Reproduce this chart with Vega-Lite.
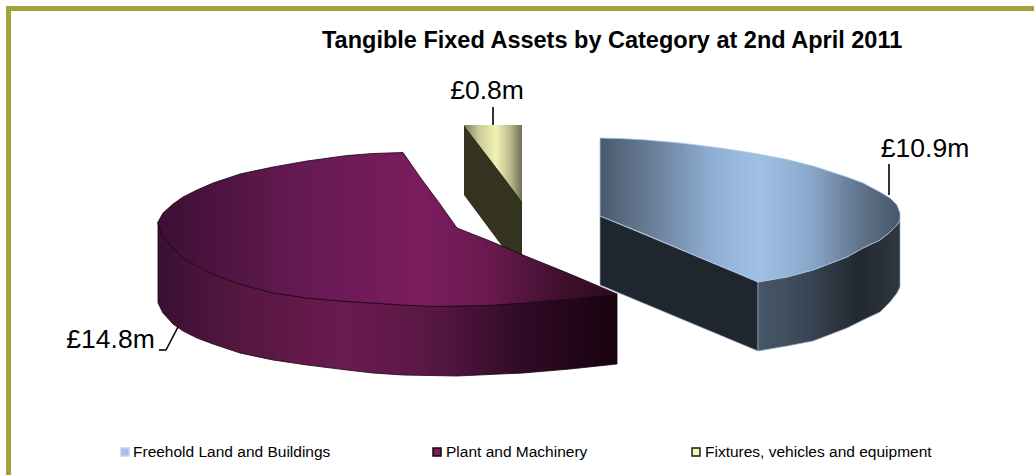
{
  "$schema": "https://vega.github.io/schema/vega-lite/v6.json",
  "width": 1034,
  "height": 475,
  "autosize": "none",
  "padding": 0,
  "background": "white",
  "view": {"stroke": null},
  "title": {
    "text": "Tangible Fixed Assets by Category at 2nd  April 2011",
    "anchor": "start",
    "frame": "group",
    "dx": 322,
    "dy": 56,
    "font": "Liberation Sans",
    "fontSize": 23.5,
    "fontWeight": "bold",
    "color": "#000000"
  },
  "datasets": {
    "frame": [
      {"x": 0.6, "x2": 103.4, "y": 0.6, "y2": 1.1},
      {"x": 0.6, "x2": 1.1, "y": 0.6, "y2": 47.5}
    ],
    "fixturesFace": [
      {"x": 46.4, "y": 12.5, "y2": 19.5},
      {"x": 52.2, "y": 20.1, "y2": 27.3}
    ],
    "fixturesTop": [
      {"x": 46.4, "y": 12.5, "y2": 12.5},
      {"x": 52.2, "y": 12.5, "y2": 20.1}
    ],
    "landFace": [
      {"x": 60.0, "y": 21.6, "y2": 28.5},
      {"x": 75.8, "y": 28.2, "y2": 35.1}
    ],
    "landRim": [
      {"x": 75.8, "y": 28.2, "y2": 35.1},
      {"x": 78.7, "y": 27.7, "y2": 34.6},
      {"x": 81.3, "y": 27.0, "y2": 34.1},
      {"x": 84.7, "y": 25.7, "y2": 32.8},
      {"x": 86.3, "y": 24.8, "y2": 32.0},
      {"x": 88.0, "y": 24.0, "y2": 31.2},
      {"x": 89.0, "y": 23.2, "y2": 30.2},
      {"x": 89.7, "y": 22.5, "y2": 29.3},
      {"x": 90.0, "y": 22.0, "y2": 28.7}
    ],
    "landTop": [
      {"x": 60.0, "y": 13.8, "y2": 21.6},
      {"x": 62.0, "y": 13.85, "y2": 22.4},
      {"x": 64.7, "y": 14.0, "y2": 23.5},
      {"x": 68.0, "y": 14.3, "y2": 24.9},
      {"x": 71.3, "y": 14.7, "y2": 26.3},
      {"x": 74.0, "y": 15.1, "y2": 27.4},
      {"x": 75.8, "y": 15.4, "y2": 28.2},
      {"x": 78.7, "y": 15.95, "y2": 27.7},
      {"x": 81.3, "y": 16.6, "y2": 27.0},
      {"x": 84.7, "y": 17.7, "y2": 25.7},
      {"x": 86.3, "y": 18.3, "y2": 24.8},
      {"x": 88.0, "y": 19.2, "y2": 24.0},
      {"x": 89.0, "y": 19.8, "y2": 23.2},
      {"x": 89.7, "y": 20.5, "y2": 22.5},
      {"x": 90.0, "y": 21.3, "y2": 22.0}
    ],
    "plantRim": [
      {"x": 15.8, "y": 22.2, "y2": 30.3},
      {"x": 16.3, "y": 23.8, "y2": 31.3},
      {"x": 17.3, "y": 24.8, "y2": 32.4},
      {"x": 18.3, "y": 25.8, "y2": 33.1},
      {"x": 19.7, "y": 26.6, "y2": 33.8},
      {"x": 21.3, "y": 27.4, "y2": 34.4},
      {"x": 24.0, "y": 28.4, "y2": 35.3},
      {"x": 27.3, "y": 29.3, "y2": 36.0},
      {"x": 30.7, "y": 29.8, "y2": 36.5},
      {"x": 34.7, "y": 30.15, "y2": 37.0},
      {"x": 37.3, "y": 30.3, "y2": 37.3},
      {"x": 40.3, "y": 30.5, "y2": 37.5},
      {"x": 45.7, "y": 30.6, "y2": 37.6},
      {"x": 52.3, "y": 30.3, "y2": 37.3},
      {"x": 57.0, "y": 29.9, "y2": 36.9},
      {"x": 61.7, "y": 29.4, "y2": 36.4}
    ],
    "plantTop": [
      {"x": 15.8, "y": 22.2, "y2": 22.4},
      {"x": 16.3, "y": 21.3, "y2": 23.8},
      {"x": 17.3, "y": 20.4, "y2": 24.8},
      {"x": 18.3, "y": 19.7, "y2": 25.8},
      {"x": 19.7, "y": 19.0, "y2": 26.6},
      {"x": 21.3, "y": 18.3, "y2": 27.4},
      {"x": 24.0, "y": 17.4, "y2": 28.4},
      {"x": 27.3, "y": 16.7, "y2": 29.3},
      {"x": 30.7, "y": 16.1, "y2": 29.8},
      {"x": 34.7, "y": 15.55, "y2": 30.15},
      {"x": 37.3, "y": 15.35, "y2": 30.3},
      {"x": 40.3, "y": 15.25, "y2": 30.5},
      {"x": 42.0, "y": 17.7, "y2": 30.6},
      {"x": 44.0, "y": 20.4, "y2": 30.65},
      {"x": 45.7, "y": 22.8, "y2": 30.6},
      {"x": 49.0, "y": 24.1, "y2": 30.55},
      {"x": 52.3, "y": 25.5, "y2": 30.3},
      {"x": 57.0, "y": 27.4, "y2": 29.9},
      {"x": 61.7, "y": 29.4, "y2": 29.4}
    ],
    "leaders": [
      {"x": 88.9, "y": 16.4, "x2": 88.9, "y2": 19.5},
      {"x": 49.3, "y": 10.7, "x2": 49.3, "y2": 12.5},
      {"x": 15.9, "y": 35.0, "x2": 16.6, "y2": 35.0},
      {"x": 16.6, "y": 35.0, "x2": 17.8, "y2": 32.7}
    ],
    "values": [
      {"category": "Freehold Land and Buildings", "value": 10.9, "label": "£10.9m", "x": 92.5, "y": 14.9},
      {"category": "Plant and Machinery", "value": 14.8, "label": "£14.8m", "x": 11.05, "y": 34.0},
      {"category": "Fixtures, vehicles and equipment", "value": 0.8, "label": "£0.8m", "x": 48.7, "y": 9.1}
    ],
    "key": [
      {"category": "Freehold Land and Buildings", "x": 12.5, "labelX": 13.3, "y": 45.2},
      {"category": "Plant and Machinery", "x": 43.7, "labelX": 44.6, "y": 45.2},
      {"category": "Fixtures, vehicles and equipment", "x": 69.6, "labelX": 70.5, "y": 45.2}
    ]
  },
  "data": {"name": "values"},
  "encoding": {
    "x": {"field": "x", "type": "quantitative", "axis": null, "scale": {"domain": [0, 103.4], "nice": false, "zero": false}},
    "y": {"field": "y", "type": "quantitative", "axis": null, "scale": {"domain": [47.5, 0], "nice": false, "zero": false}}
  },
  "layer": [
    {
      "data": {"name": "frame"},
      "mark": {"type": "rect", "fill": "#a3a23a"},
      "encoding": {"x2": {"field": "x2"}, "y2": {"field": "y2"}}
    },
    {
      "data": {"name": "fixturesFace"},
      "mark": {"type": "area", "fill": "#33331f"},
      "encoding": {"y2": {"field": "y2"}}
    },
    {
      "data": {"name": "fixturesTop"},
      "mark": {"type": "area", "fill": {"gradient": "linear", "x1": 0, "x2": 1, "y1": 0, "y2": 0, "stops": [
        {"offset": 0, "color": "#77775a"},
        {"offset": 0.25, "color": "#c9c99a"},
        {"offset": 0.55, "color": "#f2f2b2"},
        {"offset": 0.8, "color": "#b9b98c"},
        {"offset": 1, "color": "#6f6f55"}
      ]}},
      "encoding": {"y2": {"field": "y2"}}
    },
    {
      "data": {"name": "landFace"},
      "mark": {"type": "area", "fill": "#20262e", "stroke": "#90a9c9", "strokeWidth": 0.7},
      "encoding": {"y2": {"field": "y2"}}
    },
    {
      "data": {"name": "landRim"},
      "mark": {"type": "area", "stroke": "#90a9c9", "strokeWidth": 0.7, "fill": {"gradient": "linear", "x1": 0, "x2": 1, "y1": 0, "y2": 0, "stops": [
        {"offset": 0, "color": "#485869"},
        {"offset": 0.35, "color": "#3a4655"},
        {"offset": 0.7, "color": "#22282f"},
        {"offset": 1, "color": "#2f3742"}
      ]}},
      "encoding": {"y2": {"field": "y2"}}
    },
    {
      "data": {"name": "landTop"},
      "mark": {"type": "area", "stroke": "#a9c6ea", "strokeWidth": 0.8, "fill": {"gradient": "linear", "x1": 0, "x2": 1, "y1": 0, "y2": 0, "stops": [
        {"offset": 0, "color": "#4a5a6e"},
        {"offset": 0.18, "color": "#6a8099"},
        {"offset": 0.38, "color": "#8fb0d5"},
        {"offset": 0.53, "color": "#a0c0e4"},
        {"offset": 0.7, "color": "#8aa8cc"},
        {"offset": 0.87, "color": "#5f7389"},
        {"offset": 1, "color": "#47566a"}
      ]}},
      "encoding": {"y2": {"field": "y2"}}
    },
    {
      "data": {"name": "plantRim"},
      "mark": {"type": "area", "stroke": "#1a0412", "strokeWidth": 0.8, "fill": {"gradient": "linear", "x1": 0, "x2": 1, "y1": 0, "y2": 0, "stops": [
        {"offset": 0, "color": "#3a1035"},
        {"offset": 0.18, "color": "#55173f"},
        {"offset": 0.4, "color": "#6a1b50"},
        {"offset": 0.58, "color": "#5a1845"},
        {"offset": 0.8, "color": "#2f0a26"},
        {"offset": 1, "color": "#18030f"}
      ]}},
      "encoding": {"y2": {"field": "y2"}}
    },
    {
      "data": {"name": "plantTop"},
      "mark": {"type": "area", "stroke": "#1a0412", "strokeWidth": 0.8, "fill": {"gradient": "linear", "x1": 0, "x2": 1, "y1": 0, "y2": 0, "stops": [
        {"offset": 0, "color": "#3c0f33"},
        {"offset": 0.31, "color": "#651a52"},
        {"offset": 0.57, "color": "#7b1c5e"},
        {"offset": 0.7, "color": "#6d1a52"},
        {"offset": 0.87, "color": "#41102f"},
        {"offset": 1, "color": "#2e0a22"}
      ]}},
      "encoding": {"y2": {"field": "y2"}}
    },
    {
      "data": {"name": "leaders"},
      "mark": {"type": "rule", "color": "#000000", "strokeWidth": 1.6},
      "encoding": {"x2": {"field": "x2"}, "y2": {"field": "y2"}}
    },
    {
      "mark": {"type": "text", "font": "Liberation Sans", "fontSize": 26.5, "align": "center", "baseline": "middle", "color": "#000000"},
      "encoding": {"text": {"field": "label", "type": "nominal"}}
    },
    {
      "data": {"name": "key"},
      "mark": {"type": "point", "shape": "square", "size": 64, "filled": true, "opacity": 1, "strokeWidth": 1.5},
      "encoding": {
        "fill": {"field": "category", "type": "nominal", "legend": null, "scale": {"domain": ["Freehold Land and Buildings", "Plant and Machinery", "Fixtures, vehicles and equipment"], "range": ["#a9bdea", "#7b1c5e", "#f2f2b2"]}},
        "stroke": {"field": "category", "type": "nominal", "legend": null, "scale": {"domain": ["Freehold Land and Buildings", "Plant and Machinery", "Fixtures, vehicles and equipment"], "range": ["#c3cff0", "#1a0412", "#1f1f10"]}}
      }
    },
    {
      "data": {"name": "key"},
      "mark": {"type": "text", "font": "Liberation Sans", "fontSize": 15.5, "align": "left", "baseline": "middle", "color": "#000000"},
      "encoding": {
        "x": {"field": "labelX", "type": "quantitative"},
        "text": {"field": "category", "type": "nominal"}
      }
    }
  ]
}
